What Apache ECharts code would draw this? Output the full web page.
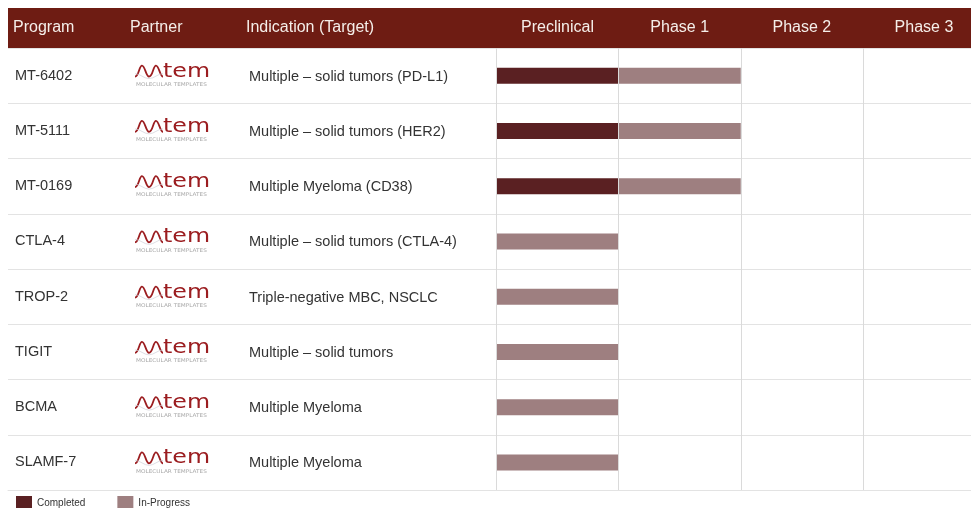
<!DOCTYPE html>
<html>
<head>
<meta charset="utf-8">
<script src="https://cdn.jsdelivr.net/npm/echarts@6/dist/echarts.min.js"></script>
<style>
  html, body { margin: 0; padding: 0; background: #fff; }
  #chart { width: 971px; height: 508px; }
</style>
</head>
<body>
<div id="chart"></div>
<script>
// 表格数据
const programs = ['MT-6402', 'MT-5111', 'MT-0169', 'CTLA-4', 'TROP-2', 'TIGIT', 'BCMA', 'SLAMF-7']
const indications = [
  'Multiple – solid tumors (PD-L1)',
  'Multiple – solid tumors (HER2)',
  'Multiple Myeloma (CD38)',
  'Multiple – solid tumors (CTLA-4)',
  'Triple-negative MBC, NSCLC',
  'Multiple – solid tumors',
  'Multiple Myeloma',
  'Multiple Myeloma'
]
const leftHeaders = ['Program', 'Partner', 'Indication (Target)']
const stages = ['Preclinical', 'Phase 1', 'Phase 2', 'Phase 3']
// 每个阶段的长度（单位：阶段）
const completed = [1, 1, 1, 0, 0, 0, 0, 0]
const inProgress = [1, 1, 1, 1, 1, 1, 1, 1]

const HEADER_BG = '#6e1c13'
const DONE = '#5a2022'
const DOING = '#9e7f80'
const FONT = '"Liberation Sans", Arial, sans-serif'

const chart = echarts.init(document.getElementById('chart'))

// 画合作方的 logo 和适应症文字
const renderRow = (params, api) => {
  const row = api.value(1)
  const p = api.coord([-4, row])
  const x0 = p[0]
  const yc = p[1]
  const lx = x0 + 127
  return {
    type: 'group',
    children: [
      {
        type: 'path',
        shape: { pathData: `M${lx} ${yc + 1} C${lx + 4} ${yc + 1} ${lx + 4} ${yc - 10} ${lx + 7} ${yc - 10} C${lx + 10} ${yc - 10} ${lx + 11} ${yc + 1} ${lx + 14} ${yc + 1} C${lx + 18} ${yc + 1} ${lx + 18} ${yc - 10} ${lx + 21} ${yc - 10} C${lx + 24} ${yc - 10} ${lx + 25} ${yc + 1} ${lx + 28} ${yc + 1}` },
        style: { fill: null, stroke: '#9b1d20', lineWidth: 1.8 }
      },
      {
        type: 'path',
        shape: { pathData: `M${lx} ${yc - 2} C${lx + 5} ${yc - 2} ${lx + 9} ${yc + 3} ${lx + 14} ${yc + 3} C${lx + 19} ${yc + 3} ${lx + 23} ${yc - 2} ${lx + 28} ${yc - 2}` },
        style: { fill: null, stroke: '#d0d0d8', lineWidth: 0.7 }
      },
      {
        type: 'text',
        x: lx + 28,
        y: yc - 4,
        scaleX: 1.25,
        style: { text: 'tem', fill: '#9b1d20', fontSize: 19, fontFamily: 'DejaVu Sans', fontWeight: 'normal', align: 'left', verticalAlign: 'middle' }
      },
      {
        type: 'text',
        x: lx + 1,
        y: yc + 9,
        scaleX: 1.15,
        style: { text: 'MOLECULAR TEMPLATES', fill: '#a8a8a8', fontSize: 5, fontFamily: 'DejaVu Sans', align: 'left', verticalAlign: 'middle' }
      },
      {
        type: 'text',
        x: x0 + 241,
        y: yc + 1,
        style: { text: indications[row], fill: '#333', fontSize: 14.5, fontFamily: FONT, align: 'left', verticalAlign: 'middle' }
      }
    ]
  }
}

const option = {
  animation: false,
  grid: { left: 8, width: 977, top: 48, bottom: 18, containLabel: false, outerBoundsMode: 'none' },
  legend: {
    left: 16,
    top: 496,
    padding: 0,
    icon: 'rect',
    itemWidth: 16,
    itemHeight: 14,
    itemGap: 32,
    textStyle: { fontSize: 10, color: '#333', fontFamily: FONT },
    data: ['Completed', 'In-Progress']
  },
  xAxis: {
    type: 'value',
    min: -4,
    max: 4,
    interval: 1,
    axisLine: { show: true, lineStyle: { color: '#e3e3e3' } },
    axisTick: { show: false },
    axisLabel: { show: false },
    splitLine: { show: false }
  },
  yAxis: {
    type: 'category',
    inverse: true,
    data: programs,
    axisLine: { show: false },
    axisTick: { show: false },
    axisLabel: { inside: true, margin: 7, color: '#333', fontSize: 14.5, fontFamily: FONT },
    splitLine: { show: true, lineStyle: { color: '#e3e3e3' } }
  },
  series: [
    {
      type: 'custom',
      z: 1,
      renderItem: renderRow,
      encode: { x: 0, y: 1 },
      data: programs.map((p, i) => [-4, i]),
      markLine: {
        silent: true,
        symbol: ['none', 'none'],
        label: { show: false },
        lineStyle: { type: 'solid', color: '#dadada', width: 1 },
        data: stages.map((s, i) => ({ xAxis: i }))
      }
    },
    {
      name: 'Completed',
      type: 'bar',
      stack: 'stage',
      z: 3,
      barWidth: 16,
      itemStyle: { color: DONE },
      data: completed
    },
    {
      name: 'In-Progress',
      type: 'bar',
      stack: 'stage',
      z: 3,
      barWidth: 16,
      itemStyle: { color: DOING },
      data: inProgress
    }
  ]
}
chart.setOption(option)

// 表头
const leftX = [13, 130, 246]
const headerText = []
leftHeaders.forEach((t, i) => {
  headerText.push({
    type: 'text', x: leftX[i], y: 28,
    style: { text: t, fill: '#f5eee9', fontSize: 16, fontFamily: FONT, align: 'left', verticalAlign: 'middle' }
  })
})
stages.forEach((t, i) => {
  headerText.push({
    type: 'text', x: chart.convertToPixel({ xAxisIndex: 0 }, i + 0.5), y: 28,
    style: { text: t, fill: '#f5eee9', fontSize: 16, fontFamily: FONT, align: 'center', verticalAlign: 'middle' }
  })
})
chart.setOption({
  graphic: [
    { type: 'rect', left: 8, top: 8, shape: { width: 963, height: 40 }, style: { fill: HEADER_BG } },
    ...headerText
  ]
})
</script>
</body>
</html>
